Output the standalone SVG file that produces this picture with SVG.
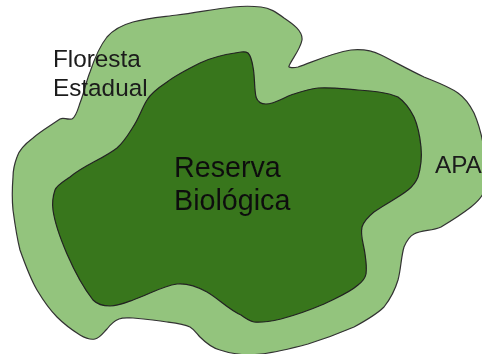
<svg xmlns="http://www.w3.org/2000/svg" width="482" height="354" viewBox="0 0 482 354">
<defs>
<filter id="soft" x="-5%" y="-5%" width="110%" height="110%"><feGaussianBlur stdDeviation="0.45"/></filter>
</defs>
<style>
.a{fill:#93c47d;stroke:#333;stroke-width:1.2;stroke-linejoin:round}
.b{fill:#38761d;stroke:#222;stroke-width:1.2;stroke-linejoin:round}
.s{font-family:"Liberation Sans",Arial,sans-serif;font-size:24.3px;fill:#1a1a1a}
.l{font-family:"Liberation Sans",Arial,sans-serif;font-size:28.7px;fill:#111}
</style>
<rect width="482" height="354" fill="#fff"/>
<g id="apa" filter="url(#soft)">
<path class="a" d="M72 119C66 120 64 117 60 119C50 126 41 131 33 138C25 144 19 150 17 157C14 165 13 170 13 177C12 190 12 200 13 210C15 225 17 238 20 250C25 264 30 278 37 290C43 300 49 309 57 317C64 324 72 330 80 335C85 338 90 340 95 339C100 338 103 333 107 329C110 325 114 321 119 319C124 317 128 318 133 318C145 319 156 320 167 322C175 323 184 324 190 327C195 330 197 334 200 337C206 343 212 348 220 350C232 354 246 356 261 354C278 352 293 348 308 344C324 339 340 333 354 327C365 321 376 315 384 307C391 298 395 290 398 280C401 269 401 257 404 247C407 240 410 236 414 234C422 230 432 231 441 227C451 221 462 214 471 207C476 203 480 199 483 194L483 143C481 133 478 122 474 113C470 105 465 98 458 93C448 86 436 82 424 77C409 70 395 62 381 55C371 50 361 49 351 50C332 53 315 61 298 67C294 68 288 68 289 66C292 59 300 50 302 40C303 31 293 24 284 18C276 12 270 8 261 7C252 6 243 6 233 7C214 9 195 13 177 15C162 17 147 18 133 22C122 25 114 29 107 37C99 47 94 60 90 72C86 82 84 93 80 103C78 109 76 117 72 119Z"/>
</g>
<g id="reserva" filter="url(#soft)">
<path class="b" d="M241 52C227 54 212 57 200 63C188 69 176 75 167 82C158 88 151 93 147 100C142 108 139 118 133 127C128 135 124 142 117 148C103 159 84 165 70 177C63 182 57 185 55 190C53 196 52 203 53 210C55 225 61 240 67 254C74 270 82 286 93 300C97 304 103 306 110 306C118 306 125 303 133 300C148 295 162 286 177 284C188 283 198 287 207 292C219 299 229 310 241 315C245 318 249 321 254 322C263 323 272 321 281 319C296 315 310 310 324 304C336 298 349 293 358 285C362 282 365 279 366 274C367 267 366 261 365 254C364 245 360 236 362 227C364 221 369 216 374 212C385 204 398 198 408 190C413 186 416 182 418 177C421 167 422 157 421 147C420 137 418 126 414 117C410 109 405 102 398 97C386 92 372 91 358 90C345 89 331 87 318 88C308 89 300 92 291 95C283 98 274 104 266 104C259 104 257 100 256 97C254 87 255 77 253 67C252 61 251 56 248 53C246 51.5 244 51.6 241 52Z"/>
</g>
<g id="labels" filter="url(#soft)">
<text class="s" x="53" y="67">Floresta</text>
<text class="s" x="53" y="96">Estadual</text>
<text class="s" x="435" y="173">APA</text>
<text class="l" x="174" y="177">Reserva</text>
<text class="l" x="174" y="210">Biológica</text>
</g>
</svg>
